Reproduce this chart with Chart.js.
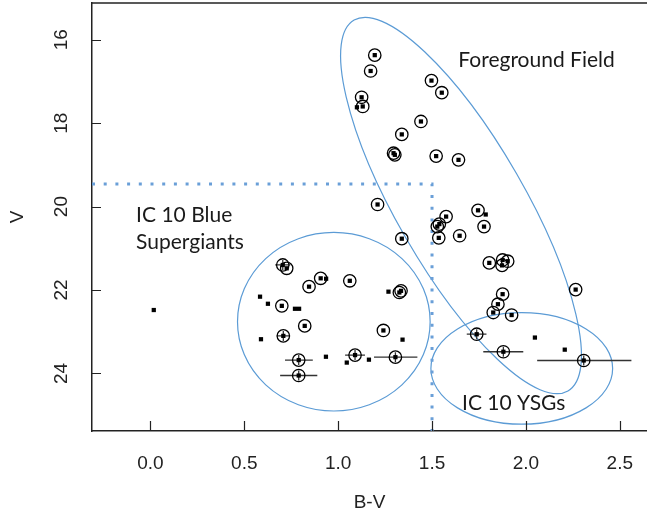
<!DOCTYPE html>
<html>
<head>
<meta charset="utf-8">
<script src="https://cdn.jsdelivr.net/npm/chart.js@4.4.0/dist/chart.umd.min.js"></script>
<style>
  html, body { margin: 0; padding: 0; background: #fff; }
  #wrap { width: 647px; height: 516px; }
</style>
</head>
<body>
<div id="wrap"><canvas id="cmd"></canvas></div>
<script>
// axis ticks
const xTicks = [0, 0.5, 1.0, 1.5, 2.0, 2.5];
const yTicks = [16, 18, 20, 22, 24];

// circled stars (B-V, V)
const circBV = [1.195, 1.173, 1.497, 1.552, 1.125, 1.131, 1.441, 1.339, 1.295, 1.302, 1.522, 1.641,
                1.210, 1.745, 1.575, 1.539, 1.528, 1.777, 1.536, 1.647, 1.339, 1.805, 1.876, 1.903,
                1.873, 1.876, 1.851, 1.826, 1.924, 2.265,
                0.726, 0.845, 0.907, 1.062, 1.335, 1.326, 0.700, 0.822, 1.241];
const circV  = [16.37, 16.75, 16.98, 17.27, 17.38, 17.60, 17.96, 18.27, 18.72, 18.76, 18.79, 18.88,
                19.95, 20.09, 20.24, 20.42, 20.48, 20.48, 20.75, 20.70, 20.77, 21.35, 21.28, 21.31,
                21.41, 22.10, 22.34, 22.54, 22.60, 21.99,
                21.48, 21.92, 21.72, 21.78, 22.02, 22.06, 22.38, 22.86, 22.97];

// plain squares
const plainBV = [1.100, 1.786, 2.048, 2.207, 0.018, 0.584, 0.626, 0.770, 0.792, 0.936, 1.268,
                 0.589, 1.343, 0.935, 1.046, 1.164];
const plainV  = [17.62, 20.19, 23.14, 23.43, 22.48, 22.16, 22.33, 22.45, 22.45, 21.73, 22.04,
                 23.18, 23.19, 23.60, 23.74, 23.67];

// circled stars with B-V error bars
const errBV = [0.705, 0.708, 0.790, 1.090, 1.305, 0.790, 1.738, 1.880, 2.308];
const errV  = [21.40, 23.10, 23.68, 23.56, 23.61, 24.05, 23.06, 23.48, 23.69];
const errLo = [0.665, 0.673, 0.717, 1.037, 1.191, 0.691, 1.685, 1.773, 2.060];
const errHi = [0.745, 0.744, 0.865, 1.143, 1.422, 0.889, 1.790, 1.986, 2.562];
const errVdelta = 0.12;

// dotted cut lines
const cutV = 19.46;
const cutBV = 1.5;

const pts = (bx, vy) => bx.map((b, i) => ({ x: b, y: vy[i] }));

const squares = pts(plainBV, plainV).concat(pts(circBV, circV), pts(errBV, errV));
const circles = pts(circBV, circV).concat(pts(errBV, errV));
const hBars = [];
const vBars = [];
errBV.forEach((b, i) => {
    hBars.push({ x: errLo[i], y: errV[i] }, { x: errHi[i], y: errV[i] }, { x: errHi[i], y: null });
    vBars.push({ x: b, y: errV[i] - errVdelta }, { x: b, y: errV[i] + errVdelta }, { x: b, y: null });
});

const blue = '#5b9bd5';
const textFont = '21px Lato, "Open Sans", sans-serif';

// ellipses, text, inward ticks, rotated y labels
const overlay = {
    id: 'overlay',
    beforeDatasetsDraw(chart) {
        const { ctx, chartArea: a, scales: { x, y } } = chart;
        ctx.save();
        ctx.strokeStyle = blue;
        ctx.lineWidth = 1.2;

        // foreground field (tilted)
        const t1x = x.getPixelForValue(1.085), t1y = y.getPixelForValue(15.53);
        const t2x = x.getPixelForValue(2.224), t2y = y.getPixelForValue(24.42);
        const cx = (t1x + t2x) / 2, cy = (t1y + t2y) / 2;
        const ra = Math.hypot(t2x - t1x, t2y - t1y) / 2;
        const rot = Math.atan2(t2y - t1y, t2x - t1x);
        ctx.beginPath();
        ctx.ellipse(cx, cy, ra, 64, rot, 0, Math.PI * 2);
        ctx.stroke();

        // blue supergiants
        ctx.beginPath();
        ctx.ellipse(x.getPixelForValue(0.977), y.getPixelForValue(22.76),
            Math.abs(x.getPixelForValue(0.977 + 0.513) - x.getPixelForValue(0.977)),
            Math.abs(y.getPixelForValue(22.76 + 2.14) - y.getPixelForValue(22.76)), 0, 0, Math.PI * 2);
        ctx.stroke();

        // YSGs
        ctx.beginPath();
        ctx.ellipse(x.getPixelForValue(1.978), y.getPixelForValue(23.88),
            Math.abs(x.getPixelForValue(1.978 + 0.484) - x.getPixelForValue(1.978)),
            Math.abs(y.getPixelForValue(23.88 + 1.337) - y.getPixelForValue(23.88)), 0, 0, Math.PI * 2);
        ctx.stroke();

        // dotted cut
        ctx.strokeStyle = '#6a9fd8';
        ctx.lineWidth = 3;
        ctx.setLineDash([3, 8.7]);
        const py = y.getPixelForValue(cutV), px = x.getPixelForValue(cutBV);
        ctx.beginPath();
        ctx.moveTo(a.left, py);
        ctx.lineTo(px, py);
        ctx.lineTo(px, a.bottom);
        ctx.stroke();
        ctx.setLineDash([]);

        // labels
        ctx.fillStyle = '#1a1a1a';
        ctx.font = textFont;
        ctx.textAlign = 'left';
        ctx.textBaseline = 'middle';
        ctx.fillText('Foreground Field', x.getPixelForValue(1.64), y.getPixelForValue(16.5));
        ctx.fillText('IC 10 Blue', x.getPixelForValue(-0.076), y.getPixelForValue(20.2));
        ctx.fillText('Supergiants', x.getPixelForValue(-0.076), y.getPixelForValue(20.85));
        ctx.fillText('IC 10 YSGs', x.getPixelForValue(1.66), y.getPixelForValue(24.71));
        ctx.restore();
    },
    afterDraw(chart) {
        const { ctx, chartArea: a, scales: { x, y } } = chart;
        ctx.save();
        ctx.strokeStyle = '#222';
        ctx.lineWidth = 1.5;
        ctx.beginPath();
        ctx.moveTo(a.left, a.top);
        ctx.lineTo(a.right, a.top);
        ctx.stroke();
        ctx.lineWidth = 1.2;
        ctx.beginPath();
        xTicks.forEach(v => {
            const p = Math.round(x.getPixelForValue(v)) + 0.5;
            ctx.moveTo(p, a.bottom);
            ctx.lineTo(p, a.bottom - 10);
        });
        yTicks.forEach(v => {
            const p = Math.round(y.getPixelForValue(v)) + 0.5;
            ctx.moveTo(a.left, p);
            ctx.lineTo(a.left + 9, p);
        });
        ctx.stroke();

        ctx.fillStyle = '#222';
        ctx.font = '19px "Liberation Sans", Arial, sans-serif';
        ctx.textAlign = 'center';
        ctx.textBaseline = 'middle';
        yTicks.forEach(v => {
            ctx.save();
            ctx.translate(62, y.getPixelForValue(v));
            ctx.rotate(-Math.PI / 2);
            ctx.fillText(String(v), 0, 0);
            ctx.restore();
        });
        ctx.restore();
    }
};

Chart.defaults.font.family = '"Liberation Sans", Arial, sans-serif';
Chart.defaults.color = '#222';

const ctx = document.getElementById('cmd').getContext('2d');
const cmdChart = new Chart(ctx, {
    type: 'scatter',
    data: {
        datasets: [
            {
                label: 'stars',
                data: squares,
                pointStyle: 'rect',
                pointRadius: 3,
                backgroundColor: '#000',
                borderColor: '#000',
                borderWidth: 0
            },
            {
                label: 'circled',
                data: circles,
                pointStyle: 'circle',
                pointRadius: 6.2,
                backgroundColor: 'rgba(0,0,0,0)',
                borderColor: '#000',
                borderWidth: 1.3
            },
            {
                label: 'B-V errors',
                data: hBars,
                showLine: true,
                pointRadius: 0,
                borderColor: '#333',
                borderWidth: 1.3
            },
            {
                label: 'V errors',
                data: vBars,
                showLine: true,
                pointRadius: 0,
                borderColor: '#333',
                borderWidth: 1.3
            }
        ]
    },
    options: {
        responsive: true,
        maintainAspectRatio: false,
        animation: false,
        layout: { autoPadding: false, padding: { top: 3, right: 0, left: 0, bottom: 0 } },
        scales: {
            x: {
                type: 'linear',
                min: -0.311,
                max: 2.645,
                afterBuildTicks: s => { s.ticks = xTicks.map(v => ({ value: v })); },
                afterFit: s => { s.height = 85; s.paddingLeft = 0; s.paddingRight = 0; },
                grid: { display: false, drawTicks: false },
                border: { display: true, color: '#222', width: 1.5 },
                ticks: {
                    padding: 21,
                    font: { size: 19 },
                    callback: v => Number(v).toFixed(1)
                },
                title: { display: true, text: 'B-V', font: { size: 19 }, padding: { top: 0, bottom: 2 } }
            },
            y: {
                type: 'linear',
                reverse: true,
                min: 15.12,
                max: 25.38,
                afterBuildTicks: s => { s.ticks = yTicks.map(v => ({ value: v })); },
                afterFit: s => { s.width = 92; s.paddingTop = 0; s.paddingBottom = 0; },
                grid: { display: false, drawTicks: false },
                border: { display: true, color: '#222', width: 1.5 },
                ticks: { display: false },
                title: { display: true, text: 'V', font: { size: 19 }, padding: { top: 6, bottom: 0 } }
            }
        },
        plugins: {
            legend: { display: false },
            tooltip: { enabled: false }
        }
    },
    plugins: [overlay]
});
</script>
</body>
</html>
